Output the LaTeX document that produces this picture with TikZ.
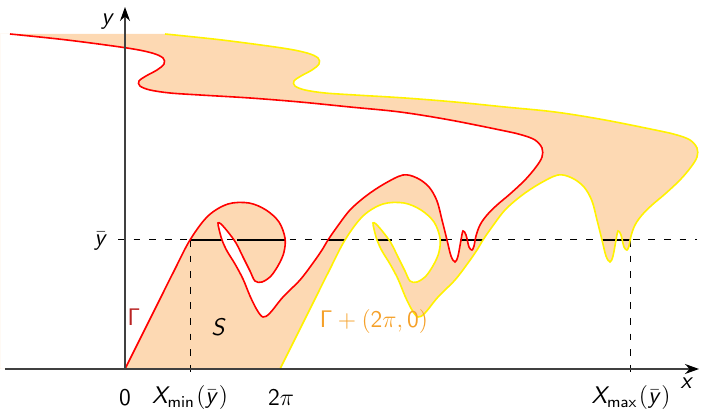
\documentclass[tikz,border=0pt]{standalone}
\usetikzlibrary{arrows.meta}
\DeclareMathAlphabet{\mathsfit}{OT1}{cmss}{m}{sl}
\definecolor{peach}{RGB}{253,217,179}
\definecolor{gamred}{RGB}{185,35,35}
\definecolor{gamorange}{RGB}{245,160,40}
\newcommand\gpath{plot[smooth,tension=0.55] coordinates {(125,369) (142,335) (158,303) (174,271) (190,240) (208,216) (228,204) (249,203) (266,210) (279,222) (285,238) (284,252) (279,264) (271,276) (262,282) (255,281) (250,271) (243,257) (236,243) (228,232) (221,224) (218,223) (219,229) (222,240) (227,251) (235,264) (243,279) (250,296) (257,310) (263,317) (270,313) (283,297) (300,280) (313,263) (322,250) (328,240) (337,227) (350,210) (366,196) (384,184) (403,175) (417,178) (429,187) (437,201) (442,220) (447,240) (451,256) (455,262) (458,256) (461,240) (463,231) (466,235) (469,247) (472,250) (474,246) (476,236) (480,225) (487,215) (497,205) (510,194) (525,180) (536,167) (542,157) (542,148) (535,140) (522,135) (505,131) (450,120) (400,112) (350,107) (300,102) (250,98) (200,95) (170,93) (150,90) (140,86) (139,81) (146,76) (157,70) (164,64) (163,58) (152,53) (127,48) (67,40) (10,34)}}
\tikzset{
  axisline/.style={black!75, line width=0.6pt, -{Stealth[length=7pt,width=5pt,black]}},
  curve/.style={line width=0.8pt},
  hit/.style={black, line width=1.4pt},
  guide/.style={black, line width=0.5pt, dash pattern=on 3.4pt off 4.4pt},
  lab/.style={inner sep=1pt, font=\fontsize{11.5}{13}\selectfont},
  biglab/.style={inner sep=1pt, font=\fontsize{12.5}{15}\selectfont}
}
\begin{document}
\begin{tikzpicture}[x=0.5pt,y=-0.5pt]
\useasboundingbox (0,0) rectangle (701,410);
% filled region between Gamma and Gamma + (2pi,0)
\begin{scope}
  \clip[shift={(155,0)}] \gpath -- (-155,34) -- (-155,369) -- cycle;
  \fill[peach, even odd rule] (-20,-20) rectangle (720,430) \gpath -- (0,34) -- (0,369) -- cycle;
\end{scope}
% guide lines
\coordinate (yl) at (118,240);
\coordinate (yr) at (697,240);
\coordinate (xmin) at (190,240);
\coordinate (xminb) at (190,373);
\coordinate (xmax) at (630,240);
\coordinate (xmaxb) at (630,374);
\draw[guide] (yl) -- (yr);
\draw[guide] (xmin) -- (xminb);
\draw[guide] (xmax) -- (xmaxb);
% intersection of y = ybar with S
\draw[hit] (190,240) -- (222,240);
\draw[hit] (237,240) -- (285,240);
\draw[hit] (328,240) -- (345,240);
\draw[hit] (377,240) -- (392,240);
\draw[hit] (440,240) -- (448,240);
\draw[hit] (460,240) -- (483,240);
\draw[hit] (602,240) -- (630,240);
% curves
\draw[red, curve] \gpath;
\draw[yellow, curve, shift={(155,0)}] \gpath;
% axes
\coordinate (xa) at (5,369);
\coordinate (xb) at (699,369);
\coordinate (O) at (125,369);
\coordinate (ya) at (125,7);
\draw[axisline] (xa) -- (xb);
\draw[axisline] (O) -- (ya);
% labels
\node[lab] (ly) at (108,22) {$\mathsfit{y}$};
\node[lab] (lx) at (687,383) {$\mathsfit{x}$};
\node[lab] (lybar) at (101,241) {$\bar{\mathsfit{y}}$};
\node[lab] (l0) at (125,398) {$\mathsf{0}$};
\node[lab] (lxmin) at (190,398) {$\mathsfit{X}_{\mathsf{min}}\mkern1mu\mathsf{(}\bar{\mathsfit{y}}\mathsf{)}$};
\node[lab] (l2pi) at (281,398) {$\mathsf{2}\pi$};
\node[lab] (lxmax) at (631,398) {$\mathsfit{X}_{\mathsf{max}}\mkern1mu\mathsf{(}\bar{\mathsfit{y}}\mathsf{)}$};
\node[biglab, text=gamred] (lgam) at (134,317) {$\mathsf{\Gamma}$};
\node[biglab] (lS) at (219,327) {$\mathsfit{S}$};
\node[biglab, text=gamorange] (lgam2) at (374,322) {$\mathsf{\Gamma}+\mathsf{(2}\pi\mathsf{,}\,\mathsf{0)}$};
\end{tikzpicture}
\end{document}
